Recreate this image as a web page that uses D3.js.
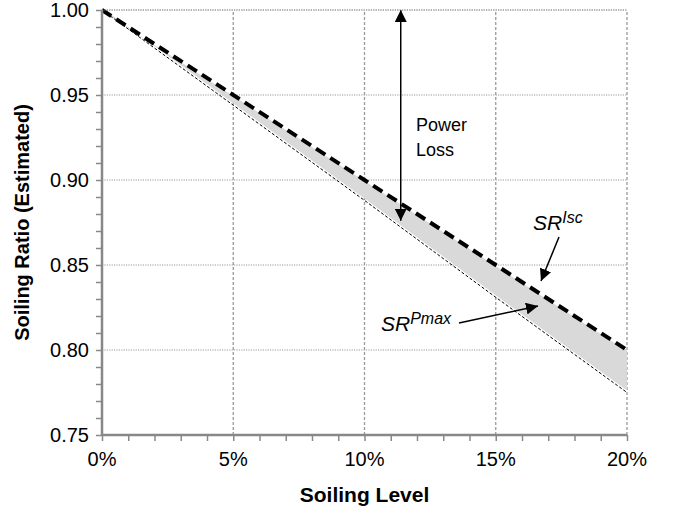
<!DOCTYPE html>
<meta charset="utf-8">
<head>
    <title>Soiling Ratio vs Soiling Level</title>
    <style>
        body { margin: 0; background: #fff; }
        text { font-family: "Liberation Sans", Arial, sans-serif; }
    </style>
</head>
<body>
<script src="https://d3js.org/d3.v7.min.js"></script>
<script>
    // data
    var soilingLevel = [0, 0.05, 0.10, 0.15, 0.20];
    var srIsc = [1.00, 0.95, 0.90, 0.85, 0.80];
    var srPmax = [1.00, 0.944, 0.888, 0.831, 0.775];
    var xTicks = [0, 0.05, 0.10, 0.15, 0.20];
    var yTicks = [0.75, 0.80, 0.85, 0.90, 0.95, 1.00];
    var powerLossAt = 0.1138, powerLossFrom = 1.0, powerLossTo = 0.876;

    var W = 678, H = 510;
    var margin = { top: 10, right: 51, bottom: 75, left: 102 };

    var svg = d3.select("body").append("svg")
        .attr("width", W).attr("height", H);

    var x = d3.scaleLinear().domain([0, 0.20]).range([margin.left, W - margin.right]);
    var y = d3.scaleLinear().domain([0.75, 1.00]).range([H - margin.bottom, margin.top]);

    var rows = soilingLevel.map(function (d, i) {
        return { s: d, isc: srIsc[i], pmax: srPmax[i] };
    });

    // gridlines
    svg.append("g").selectAll("line")
        .data(yTicks.slice(1))
        .enter().append("line")
        .attr("x1", x(0)).attr("x2", x(0.20))
        .attr("y1", function (d) { return y(d); })
        .attr("y2", function (d) { return y(d); })
        .attr("stroke", "#999").attr("stroke-width", 1)
        .attr("stroke-dasharray", "1.2,1.2");

    svg.append("g").selectAll("line")
        .data(xTicks.slice(1))
        .enter().append("line")
        .attr("y1", y(0.75)).attr("y2", y(1.0))
        .attr("x1", function (d) { return x(d); })
        .attr("x2", function (d) { return x(d); })
        .attr("stroke", "#999").attr("stroke-width", 1.3)
        .attr("stroke-dasharray", "3,2");

    // band between the two curves
    var area = d3.area()
        .x(function (d) { return x(d.s); })
        .y0(function (d) { return y(d.pmax) - 2; })
        .y1(function (d) { return y(d.isc) + 1; });
    svg.append("path").datum(rows)
        .attr("d", area)
        .attr("fill", "#d9d9d9");

    // lines
    var linePmax = d3.line().x(function (d) { return x(d.s); }).y(function (d) { return y(d.pmax); });
    var lineIsc = d3.line().x(function (d) { return x(d.s); }).y(function (d) { return y(d.isc); });

    svg.append("path").datum(rows)
        .attr("d", linePmax)
        .attr("fill", "none").attr("stroke", "#000")
        .attr("stroke-width", 1).attr("stroke-dasharray", "3,2");

    svg.append("path").datum(rows)
        .attr("d", lineIsc)
        .attr("fill", "none").attr("stroke", "#000")
        .attr("stroke-width", 4).attr("stroke-dasharray", "11,6");

    // axes (minor ticks every 1% / 0.01)
    var xAxis = d3.axisBottom(x).tickValues(d3.range(0, 0.2001, 0.01))
        .tickSize(6).tickFormat("");
    var gx = svg.append("g").attr("transform", "translate(0," + y(0.75) + ")").call(xAxis);
    var yAxis = d3.axisLeft(y).tickValues(d3.range(0.75, 1.0001, 0.01))
        .tickSize(6).tickFormat("");
    var gy = svg.append("g").attr("transform", "translate(" + x(0) + ",0)").call(yAxis);
    [gx, gy].forEach(function (g) {
        g.select(".domain").remove();
        g.selectAll(".tick line").attr("stroke", "#888").attr("stroke-width", 1.5);
    });
    svg.append("line")
        .attr("x1", x(0)).attr("x2", x(0.20)).attr("y1", y(0.75)).attr("y2", y(0.75))
        .attr("stroke", "#888").attr("stroke-width", 2.5);
    svg.append("line")
        .attr("x1", x(0)).attr("x2", x(0)).attr("y1", y(0.75)).attr("y2", y(1.0))
        .attr("stroke", "#888").attr("stroke-width", 2.5);

    // tick labels
    svg.append("g").selectAll("text")
        .data(xTicks).enter().append("text")
        .attr("x", function (d) { return x(d); })
        .attr("y", y(0.75) + 31)
        .attr("text-anchor", "middle")
        .style("font-size", "20px")
        .text(function (d) { return Math.round(d * 100) + "%"; });

    svg.append("g").selectAll("text")
        .data(yTicks).enter().append("text")
        .attr("x", x(0) - 13)
        .attr("y", function (d) { return y(d) + 7; })
        .attr("text-anchor", "end")
        .style("font-size", "20px")
        .text(function (d) { return d.toFixed(2); });

    // axis titles
    svg.append("text")
        .attr("x", (x(0) + x(0.20)) / 2).attr("y", 502)
        .attr("text-anchor", "middle")
        .style("font-size", "21px").style("font-weight", "bold")
        .text("Soiling Level");

    svg.append("text")
        .attr("transform", "translate(29," + (y(0.875)) + ") rotate(-90)")
        .attr("text-anchor", "middle")
        .style("font-size", "20px").style("font-weight", "bold")
        .text("Soiling Ratio (Estimated)");

    // arrow marker
    svg.append("defs").append("marker")
        .attr("id", "arrBig")
        .attr("viewBox", "0 0 10 10")
        .attr("refX", 10).attr("refY", 5)
        .attr("markerWidth", 12).attr("markerHeight", 12)
        .attr("markerUnits", "userSpaceOnUse")
        .attr("orient", "auto-start-reverse")
        .append("path").attr("d", "M0,0 L10,5 L0,10 Z").attr("fill", "#000");

    // power loss double arrow
    svg.append("line")
        .attr("x1", x(powerLossAt)).attr("x2", x(powerLossAt))
        .attr("y1", y(powerLossFrom)).attr("y2", y(powerLossTo))
        .attr("stroke", "#000").attr("stroke-width", 1.5)
        .attr("marker-start", "url(#arrBig)").attr("marker-end", "url(#arrBig)");

    var pl = svg.append("text").style("font-size", "18px");
    pl.append("tspan").attr("x", 416).attr("y", 131).text("Power");
    pl.append("tspan").attr("x", 416).attr("y", 156).text("Loss");

    // SR labels
    var t1 = svg.append("text").attr("x", 533).attr("y", 230)
        .style("font-size", "21px").style("font-style", "italic");
    t1.append("tspan").text("SR");
    t1.append("tspan").attr("dy", -7).style("font-size", "16px").text("Isc");

    var t2 = svg.append("text").attr("x", 381).attr("y", 331)
        .style("font-size", "21px").style("font-style", "italic");
    t2.append("tspan").text("SR");
    t2.append("tspan").attr("dy", -7).style("font-size", "16px").text("Pmax");

    svg.append("line")
        .attr("x1", 559).attr("y1", 237).attr("x2", 541).attr("y2", 281)
        .attr("stroke", "#000").attr("stroke-width", 1.5)
        .attr("marker-end", "url(#arrBig)");
    svg.append("line")
        .attr("x1", 459).attr("y1", 323).attr("x2", 538).attr("y2", 306)
        .attr("stroke", "#000").attr("stroke-width", 1.5)
        .attr("marker-end", "url(#arrBig)");

    // dotted gridline along top border
    svg.append("line")
        .attr("x1", x(0)).attr("x2", x(0.20)).attr("y1", y(1.0)).attr("y2", y(1.0))
        .attr("stroke", "#999").attr("stroke-width", 1).attr("stroke-dasharray", "1.2,1.2");
</script>
</body>
</html>
